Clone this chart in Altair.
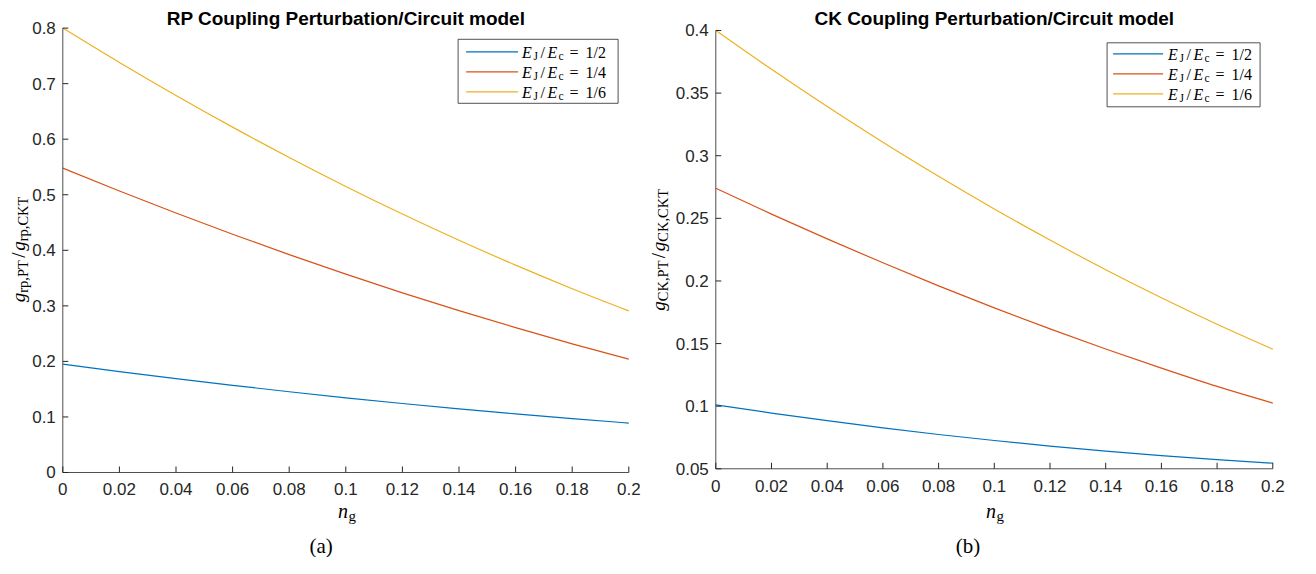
import altair as alt
import pandas as pd

# ---------------- data ----------------
ng = [0, 0.02, 0.04, 0.06, 0.08, 0.1, 0.12, 0.14, 0.16, 0.18, 0.2]
ratio_labels = ["1/2", "1/4", "1/6"]
series_names = ["EJ/Ec = 1/2", "EJ/Ec = 1/4", "EJ/Ec = 1/6"]

rp_half = [0.195, 0.1817, 0.1690, 0.1569, 0.1454, 0.1345, 0.1242, 0.1145, 0.1054, 0.0969, 0.0890]
rp_quarter = [0.548, 0.5068, 0.4671, 0.4289, 0.3922, 0.3570, 0.3234, 0.2913, 0.2607, 0.2316, 0.2040]
rp_sixth = [0.800, 0.7381, 0.6787, 0.6217, 0.5671, 0.5150, 0.4653, 0.4181, 0.3733, 0.3309, 0.2910]

ck_half = [0.101, 0.0945, 0.0884, 0.0827, 0.0774, 0.0726, 0.0681, 0.0641, 0.0605, 0.0573, 0.0545]
ck_quarter = [0.274, 0.2534, 0.2336, 0.2145, 0.1961, 0.1785, 0.1617, 0.1457, 0.1304, 0.1158, 0.1025]
ck_sixth = [0.400, 0.3690, 0.3393, 0.3108, 0.2836, 0.2575, 0.2327, 0.2090, 0.1866, 0.1654, 0.1455]

x_ticks = [0, 0.02, 0.04, 0.06, 0.08, 0.1, 0.12, 0.14, 0.16, 0.18, 0.2]
x_tick_labels = ["0", "0.02", "0.04", "0.06", "0.08", "0.1", "0.12", "0.14", "0.16", "0.18", "0.2"]
rp_y_ticks = [0, 0.1, 0.2, 0.3, 0.4, 0.5, 0.6, 0.7, 0.8]
rp_y_tick_labels = ["0", "0.1", "0.2", "0.3", "0.4", "0.5", "0.6", "0.7", "0.8"]
ck_y_ticks = [0.05, 0.1, 0.15, 0.2, 0.25, 0.3, 0.35, 0.4]
ck_y_tick_labels = ["0.05", "0.1", "0.15", "0.2", "0.25", "0.3", "0.35", "0.4"]

rp_title = "RP Coupling Perturbation/Circuit model"
ck_title = "CK Coupling Perturbation/Circuit model"

colors = ["#0072BD", "#D95319", "#EDB120"]

SANS = "Liberation Sans"
SERIF = "Liberation Serif"
AX = "#262626"
DOM = "#4d4d4d"


def make_panel(p):
    w, h = p["width"], p["height"]
    rows = []
    for name, vals in zip(series_names, p["series"]):
        for xv, yv in zip(ng, vals):
            rows.append({"ng": xv, "value": yv, "series": name})
    df = pd.DataFrame(rows)

    xscale = alt.Scale(domain=[0, 0.2], nice=False, zero=False)
    yscale = alt.Scale(domain=p["ydomain"], nice=False, zero=False)
    color = alt.Color("series:N", scale=alt.Scale(domain=series_names, range=colors), legend=None)

    lines = alt.Chart(df).mark_line(strokeWidth=1.2, interpolate="monotone").encode(
        x=alt.X("ng:Q", scale=xscale, axis=None),
        y=alt.Y("value:Q", scale=yscale, axis=None),
        color=color,
    )

    # axis lines
    ydom_line = alt.Chart(pd.DataFrame({"lo": [p["yticks"][0]], "hi": [p["yticks"][-1]]})).mark_rule(
        color=DOM, strokeWidth=1).encode(
        x=alt.value(0), y=alt.Y("lo:Q", scale=yscale, axis=None), y2="hi:Q")
    xdom_line = alt.Chart(pd.DataFrame({"lo": [x_ticks[0]], "hi": [x_ticks[-1]]})).mark_rule(
        color=DOM, strokeWidth=1).encode(
        y=alt.value(h), x=alt.X("lo:Q", scale=xscale, axis=None), x2="hi:Q")

    # inward ticks
    xt_df = pd.DataFrame({"t": x_ticks, "lbl": x_tick_labels})
    yt_df = pd.DataFrame({"t": p["yticks"], "lbl": p["ylabels"]})
    xt = alt.Chart(xt_df).mark_rule(color=AX, strokeWidth=1).encode(
        x=alt.X("t:Q", scale=xscale, axis=None), y=alt.value(h), y2=alt.value(h - 6))
    yt = alt.Chart(yt_df).mark_rule(color=AX, strokeWidth=1).encode(
        y=alt.Y("t:Q", scale=yscale, axis=None), x=alt.value(0), x2=alt.value(5.5))

    # tick labels
    xl = alt.Chart(xt_df).mark_text(font=SANS, fontSize=17, color=AX, align="center",
                                    baseline="alphabetic").encode(
        x=alt.X("t:Q", scale=xscale, axis=None), y=alt.value(h + 23), text="lbl:N")
    yl = alt.Chart(yt_df).mark_text(font=SANS, fontSize=17, color=AX, align="right",
                                    baseline="alphabetic", dy=6).encode(
        y=alt.Y("t:Q", scale=yscale, axis=None), x=alt.value(-7), text="lbl:N")

    one = pd.DataFrame({"k": [0]})
    layers = [lines, ydom_line, xdom_line, xt, yt, xl, yl]

    # title
    layers.append(alt.Chart(one).mark_text(text=p["title"], font=SANS, fontSize=19, fontWeight="bold",
                                           color="black", align="center", baseline="alphabetic").encode(
        x=alt.value(w / 2), y=alt.value(-3)))

    # y title pieces (rotated)
    yx, yy = p["ytitle_x"], p["ytitle_y"]
    for text, off, fs, style, dy in p["ytitle_pieces"]:
        layers.append(alt.Chart(one).mark_text(text=text, font=SERIF, fontSize=fs, fontStyle=style,
                                               angle=270, align="left", baseline="alphabetic",
                                               dx=off, dy=dy, color="black").encode(
            x=alt.value(yx), y=alt.value(yy)))

    # x title n_g
    nx, nyb = p["xtitle_x"], p["xtitle_y"]
    layers.append(alt.Chart(one).mark_text(text="n", font=SERIF, fontSize=20, fontStyle="italic",
                                           align="left", baseline="alphabetic", color="black").encode(
        x=alt.value(nx), y=alt.value(nyb)))
    layers.append(alt.Chart(one).mark_text(text="g", font=SERIF, fontSize=15, align="left",
                                           baseline="alphabetic", dy=3, color="black").encode(
        x=alt.value(nx + 10.5), y=alt.value(nyb)))

    # caption
    layers.append(alt.Chart(one).mark_text(text=p["caption"], font=SERIF, fontSize=21, align="center",
                                           baseline="alphabetic", color="black").encode(
        x=alt.value(p["caption_x"]), y=alt.value(p["caption_y"])))

    # legend
    lg = p["legend"]
    box = alt.Chart(one).mark_rect(fill="white", stroke=AX, strokeWidth=0.8).encode(
        x=alt.value(lg["x0"]), x2=alt.value(lg["x1"]), y=alt.value(lg["y0"]), y2=alt.value(lg["y1"]))
    ldf = pd.DataFrame({"series": series_names, "ratio": ratio_labels, "idx": [0, 1, 2]})
    base = alt.Chart(ldf).transform_calculate(
        ly=f"{lg['line_y']} + {lg['step']} * datum.idx",
        ty=f"{lg['text_y']} + {lg['step']} * datum.idx")
    sym = base.mark_rule(strokeWidth=1.2).encode(
        x=alt.value(lg["lx0"]), x2=alt.value(lg["lx1"]),
        y=alt.Y("ly:Q", scale=None, axis=None), color=color)
    layers += [box, sym]
    tx0 = lg["tx"]
    pieces = [("E", 0, 16, "italic", 0), ("J", 11.3, 11.5, "normal", 2.5), ("/", 18.5, 16, "normal", 0),
              ("E", 25.3, 16, "italic", 0), ("c", 36.5, 11.5, "normal", 2.5), ("=", 47.5, 16, "normal", 0)]
    for text, off, fs, style, dy in pieces:
        layers.append(base.mark_text(text=text, font=SERIF, fontSize=fs, fontStyle=style, align="left",
                                     baseline="alphabetic", dy=dy, color="black").encode(
            x=alt.value(tx0 + off), y=alt.Y("ty:Q", scale=None, axis=None)))
    layers.append(base.mark_text(font=SERIF, fontSize=16, align="left", baseline="alphabetic",
                                 color="black").encode(
        x=alt.value(tx0 + 63.5), y=alt.Y("ty:Q", scale=None, axis=None), text="ratio:N"))

    return alt.layer(*layers).properties(width=w, height=h)


TOP = 28.3  # page y of the plot top

rp_h = 472.7 - TOP
rp_panel = dict(
    width=566, height=rp_h, ydomain=[0, 0.8], yticks=rp_y_ticks, ylabels=rp_y_tick_labels,
    series=[rp_half, rp_quarter, rp_sixth], title=rp_title,
    ytitle_x=-37.7, ytitle_y=rp_h / 2 + 52,
    ytitle_pieces=[("g", 0, 19, "italic", 0), ("rp,PT", 9.5, 14.5, "normal", 3), ("/", 44.5, 19, "normal", 0),
                   ("g", 51.5, 19, "italic", 0), ("rp,CKT", 61, 14.5, "normal", 3)],
    xtitle_x=275.3, xtitle_y=518 - TOP,
    caption="(a)", caption_x=258.3, caption_y=553 - TOP,
    legend=dict(x0=395.3, x1=555.3, y0=39.5 - TOP, y1=103.5 - TOP, lx0=403.3, lx1=455.3,
                line_y=52 - TOP, text_y=58 - TOP, step=20, tx=459.3),
)

ck_h = 469 - TOP
ck_panel = dict(
    width=557, height=ck_h, ydomain=[0.05, 0.05 + 0.35 * ck_h / (469 - 30.7)], yticks=ck_y_ticks,
    ylabels=ck_y_tick_labels,
    series=[ck_half, ck_quarter, ck_sixth], title=ck_title,
    ytitle_x=-51.2, ytitle_y=(30.7 + 469) / 2 - TOP + 61,
    ytitle_pieces=[("g", 0, 19, "italic", 0), ("CK,PT", 9.5, 14.5, "normal", 3), ("/", 52.5, 19, "normal", 0),
                   ("g", 59.5, 19, "italic", 0), ("CK,CKT", 69, 14.5, "normal", 3)],
    xtitle_x=270.3, xtitle_y=518 - TOP,
    caption="(b)", caption_x=252.3, caption_y=553 - TOP,
    legend=dict(x0=391.3, x1=544.3, y0=43 - TOP, y1=107 - TOP, lx0=397.3, lx1=447.3,
                line_y=54 - TOP, text_y=60 - TOP, step=20, tx=452.3),
)

chart = alt.hconcat(make_panel(rp_panel), make_panel(ck_panel), spacing=87, bounds="flush").configure_view(
    stroke=None).properties(padding={"left": 1.8, "top": 2.1, "right": 0, "bottom": 0}, background="white")

chart.save("out.html", embed_options={"renderer": "svg", "actions": False})
